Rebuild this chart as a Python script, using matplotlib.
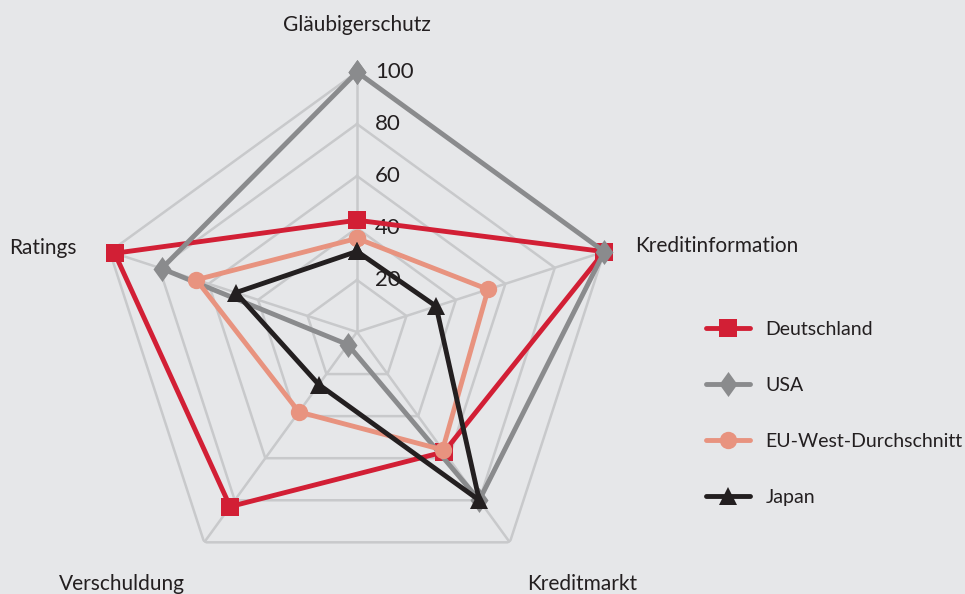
import numpy as np
import matplotlib
matplotlib.use("Agg")
import matplotlib.pyplot as plt

# categories clockwise from the top
categories = ["Gläubigerschutz", "Kreditinformation", "Kreditmarkt", "Verschuldung", "Ratings"]
ringValues = [20, 40, 60, 80, 100]

deutschland = [43, 100, 57, 83, 98]
usa = [100, 100, 80, 6, 79]
euWest = [36, 53, 56, 38, 65]
japan = [31, 32, 80, 25, 49]

seriesNames = ["Deutschland", "USA", "EU-West-Durchschnitt", "Japan"]
seriesData = [deutschland, usa, euWest, japan]

bg = "#e6e7e9"
gridColor = "#c8c9cb"
textColor = "#231f20"
diamond = [(0, 1), (0.72, 0), (0, -1), (-0.72, 0), (0, 1)]
styles = [
    {"color": "#d21f35", "marker": "s", "ms": 12.5},
    {"color": "#8a8b8d", "marker": diamond, "ms": 18},
    {"color": "#e8937f", "marker": "o", "ms": 12.5},
    {"color": "#231f20", "marker": "^", "ms": 12.5},
]

plt.rcParams["font.family"] = ["Lato", "DejaVu Sans"]

W, H = 965, 594
fig = plt.figure(figsize=(W / 100, H / 100), dpi=100, facecolor=bg)

cx, cy, rad = 357, 332, 260
ax = fig.add_axes([(cx - rad) / W, 1 - (cy + rad) / H, 2 * rad / W, 2 * rad / H],
                  projection="polar", facecolor="none")
ax.set_theta_offset(np.pi / 2)
ax.set_theta_direction(-1)
ax.set_ylim(0, 100)
ax.grid(False)
ax.spines["polar"].set_visible(False)
ax.set_xticks([])
ax.set_yticks([])

theta = np.linspace(0, 2 * np.pi, len(categories), endpoint=False)
thetaClosed = np.append(theta, theta[0])

# pentagon grid
for r in ringValues:
    ax.plot(thetaClosed, [r] * len(thetaClosed), color=gridColor, lw=1.8, zorder=1)
for t in theta:
    ax.plot([t, t], [0, 100], color=gridColor, lw=1.8, zorder=1)

for r in ringValues:
    ax.annotate(str(r), xy=(0, r), xytext=(18, 0), textcoords="offset pixels",
                ha="left", va="center", fontsize=16, color=textColor, zorder=2)

handles = []
for i, (name, vals) in enumerate(zip(seriesNames, seriesData)):
    st = styles[i]
    ln, = ax.plot(thetaClosed, vals + [vals[0]], color=st["color"], lw=3.5,
                  marker=st["marker"], ms=st["ms"], markeredgewidth=0,
                  label=name, zorder=3 + i, clip_on=False, solid_capstyle="round")
    handles.append(ln)

# axis labels
labelPos = [(357, 25, "center"), (635, 246, "left"), (582, 584, "center"),
            (122, 584, "center"), (77, 248, "right")]
for cat, (px, py, ha) in zip(categories, labelPos):
    fig.text(px / W, 1 - py / H, cat, ha=ha, va="center", fontsize=15, color=textColor)

leg = fig.legend(handles=handles, loc="upper left",
                 bbox_to_anchor=(706 / W, 1 - 321 / H), frameon=False,
                 fontsize=14, handlelength=2.27, handletextpad=0.8,
                 labelspacing=2.0, borderpad=0, borderaxespad=0, numpoints=1)
for t in leg.get_texts():
    t.set_color(textColor)

fig.savefig("out.png", dpi=100, facecolor=bg)
